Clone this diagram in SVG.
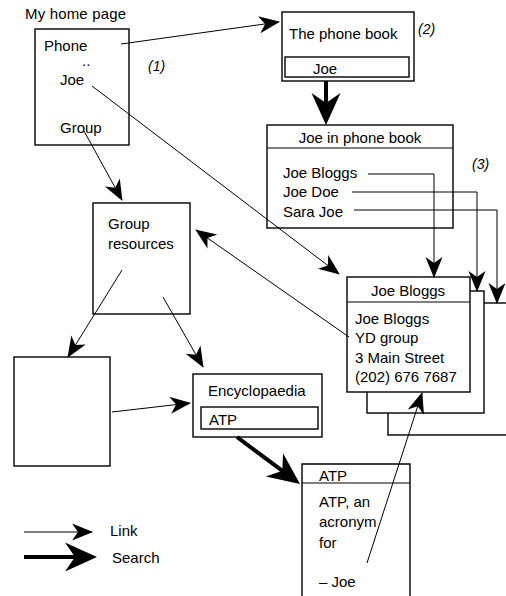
<svg xmlns="http://www.w3.org/2000/svg" width="506" height="596" viewBox="0 0 506 596">
<style>
text{font-family:"Liberation Sans",Arial,sans-serif;font-size:15px;fill:#000}
.it{font-style:italic;font-size:14px}
.box{fill:#fff;stroke:#000;stroke-width:1.4}
.ln{fill:none;stroke:#000;stroke-width:1}
.lk{fill:none;stroke:#000;stroke-width:1;marker-end:url(#link)}
.sr{fill:none;stroke:#000;stroke-width:4;marker-end:url(#search)}
</style>
<defs>
<marker id="link" markerUnits="userSpaceOnUse" markerWidth="24" markerHeight="20" viewBox="-22 -10 24 20" refX="0" refY="0" orient="auto"><path d="M1,0 L-20,-8.5 L-14,0 L-20,8.5 Z" fill="#000"/></marker>
<marker id="search" markerUnits="userSpaceOnUse" markerWidth="36" markerHeight="32" viewBox="-26 -16 36 32" refX="0" refY="0" orient="auto"><path d="M8,0 L-24,-14.5 L-14,0 L-24,14.5 Z" fill="#000"/></marker>
</defs>
<rect width="506" height="596" fill="#fff"/>

<g id="home">
<text x="25" y="19" textLength="101" lengthAdjust="spacing" font-size="14">My home page</text>
<rect class="box" x="35" y="29" width="94" height="116"/>
<text x="44" y="51">Phone</text>
<text x="82" y="66" font-size="10">..</text>
<text x="60" y="85">Joe</text>
<text x="60" y="133">Group</text>
</g>
<text class="it" x="148" y="71">(1)</text>

<g id="phonebook">
<rect class="box" x="282" y="12" width="132" height="69"/>
<text x="289" y="39">The phone book</text>
<rect class="box" x="285" y="57" width="124" height="20"/>
<text x="313" y="74">Joe</text>
</g>
<text class="it" x="418" y="34">(2)</text>

<g id="joeinphonebook">
<rect class="box" x="267" y="125" width="186" height="103"/>
<line class="ln" x1="267" y1="148" x2="453" y2="148" stroke-width="1.4"/>
<text x="360" y="143" text-anchor="middle">Joe in phone book</text>
<text x="283" y="178">Joe Bloggs</text>
<text x="283" y="197">Joe Doe</text>
<text x="283" y="217">Sara Joe</text>
</g>
<text class="it" x="472" y="169">(3)</text>

<g id="saraJoe">
<rect class="box" x="388" y="303" width="130" height="132"/>
</g>
<g id="joeDoe">
<rect class="box" x="367" y="291" width="117" height="122"/>
</g>
<g id="joeBloggs">
<rect class="box" x="347" y="277" width="123" height="115"/>
<line class="ln" x1="347" y1="302" x2="470" y2="302" stroke-width="1.4"/>
<text x="408" y="296" text-anchor="middle">Joe Bloggs</text>
<text x="355" y="324">Joe Bloggs</text>
<text x="355" y="343">YD group</text>
<text x="355" y="363">3 Main Street</text>
<text x="355" y="382">(202) 676 7687</text>
</g>

<g id="groupres">
<rect class="box" x="93" y="203" width="97" height="111"/>
<text x="108" y="229">Group</text>
<text x="108" y="249">resources</text>
</g>

<g id="blank">
<rect class="box" x="14" y="357" width="96" height="109"/>
</g>

<g id="encyclopaedia">
<rect class="box" x="193" y="374" width="129" height="63"/>
<text x="208" y="396">Encyclopaedia</text>
<rect class="box" x="201" y="407" width="117" height="22"/>
<text x="209" y="425">ATP</text>
</g>

<g id="atp">
<path class="box" d="M302,600 V464 H410 V600"/>
<line class="ln" x1="302" y1="483" x2="410" y2="483" stroke-width="1.4"/>
<text x="319" y="481">ATP</text>
<text x="319" y="507">ATP, an</text>
<text x="319" y="527">acronym</text>
<text x="319" y="548">for</text>
<text x="319" y="587">– Joe</text>
</g>

<g id="connectors">
<line class="lk" x1="121" y1="44" x2="279" y2="22"/>
<line class="lk" x1="92" y1="86" x2="339" y2="274"/>
<line class="lk" x1="84" y1="131" x2="122" y2="200"/>
<line class="sr" x1="326" y1="81" x2="326" y2="117"/>
<polyline class="lk" points="368,174 434,174 434,277"/>
<polyline class="lk" points="352,192 477,192 477,291"/>
<polyline class="lk" points="354,210 497,210 497,303"/>
<line class="lk" x1="349" y1="337" x2="196" y2="230"/>
<line class="lk" x1="122" y1="270" x2="68" y2="357"/>
<line class="lk" x1="163" y1="297" x2="203" y2="367"/>
<line class="lk" x1="112" y1="412" x2="190" y2="403"/>
<line class="sr" x1="237" y1="437" x2="293.6" y2="479.2"/>
<line class="lk" x1="367" y1="563" x2="422" y2="393"/>
</g>

<g id="legend">
<line class="lk" x1="24" y1="532" x2="92" y2="532"/>
<text x="110" y="536">Link</text>
<line class="sr" x1="24" y1="557" x2="89" y2="557"/>
<text x="112" y="563">Search</text>
</g>
</svg>
